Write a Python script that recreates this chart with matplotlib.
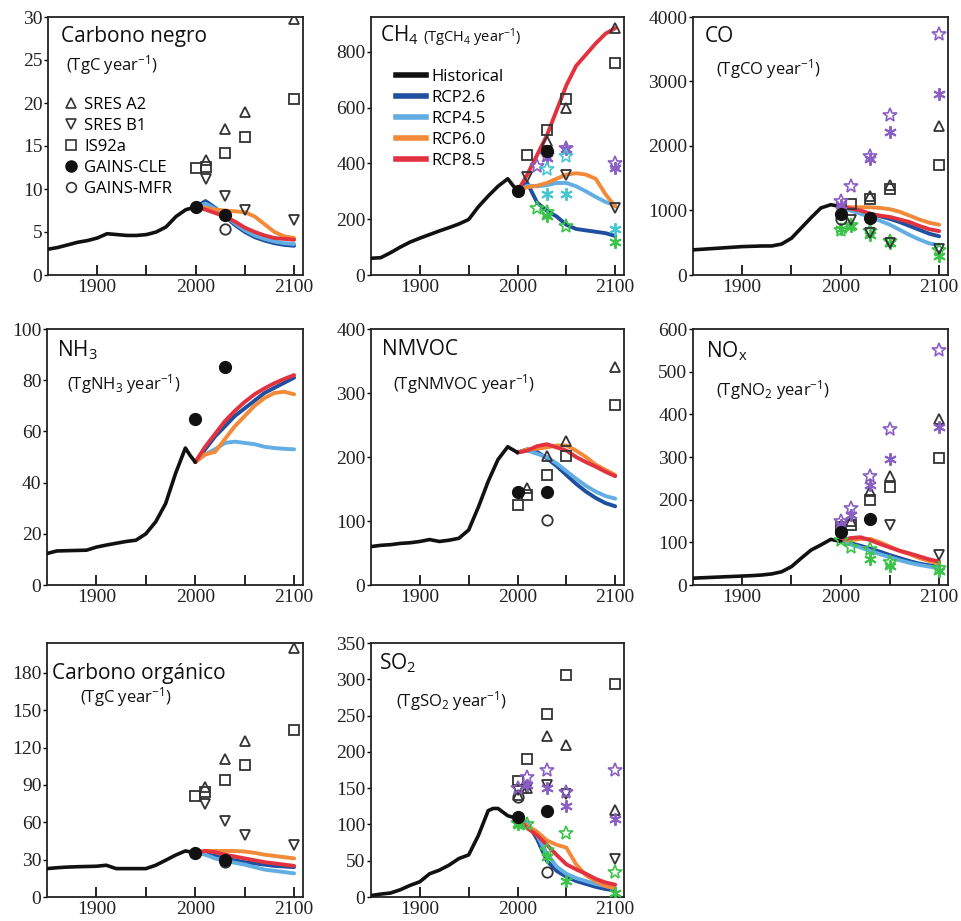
import matplotlib
matplotlib.use("Agg")
import matplotlib.pyplot as plt
from matplotlib.lines import Line2D

# ---------------- data ----------------
RCP_YEARS = [2000, 2010, 2020, 2030, 2040, 2050, 2060, 2070, 2080, 2090, 2100]
HIST_YEARS = [1850, 1860, 1870, 1880, 1890, 1900, 1910, 1920, 1930, 1940,
              1950, 1960, 1970, 1980, 1990, 2000]

# Carbono negro (BC)
BC_HIST = [3.0, 3.2, 3.5, 3.8, 4.0, 4.3, 4.8, 4.7, 4.6, 4.6, 4.7, 5.0, 5.6, 6.8, 7.6, 7.9]
BC_RCP26 = [7.9, 8.6, 7.8, 6.8, 5.8, 5.0, 4.4, 4.0, 3.7, 3.5, 3.4]
BC_RCP45 = [7.9, 8.3, 7.7, 6.9, 6.0, 5.2, 4.6, 4.2, 3.9, 3.7, 3.6]
BC_RCP60 = [7.9, 7.8, 7.6, 7.5, 7.4, 7.3, 6.8, 5.9, 5.0, 4.5, 4.3]
BC_RCP85 = [7.9, 7.6, 7.2, 6.8, 6.2, 5.5, 5.0, 4.6, 4.3, 4.2, 4.1]
BC_A2_YEARS, BC_A2 = [2010, 2030, 2050, 2100], [13.4, 17.0, 19.0, 29.8]
BC_B1_YEARS, BC_B1 = [2010, 2030, 2050, 2100], [11.2, 9.2, 7.6, 6.4]
BC_IS92_YEARS, BC_IS92 = [2000, 2010, 2030, 2050, 2100], [12.4, 12.6, 14.2, 16.0, 20.5]
BC_CLE_YEARS, BC_CLE = [2000, 2030], [7.9, 7.0]
BC_MFR_YEARS, BC_MFR = [2030], [5.4]

# CH4
CH4_HIST = [60, 62, 80, 100, 118, 132, 145, 158, 170, 183, 199, 245, 283, 318, 345, 300]
CH4_RCP26 = [300, 330, 260, 230, 210, 180, 165, 160, 155, 150, 140]
CH4_RCP45 = [300, 320, 318, 322, 330, 330, 318, 300, 280, 262, 250]
CH4_RCP60 = [300, 315, 320, 330, 345, 360, 365, 360, 345, 290, 245]
CH4_RCP85 = [300, 360, 430, 500, 590, 680, 750, 790, 830, 865, 885]
CH4_A2_YEARS, CH4_A2 = [2030, 2050, 2100], [480, 600, 885]
CH4_B1_YEARS, CH4_B1 = [2010, 2030, 2050, 2100], [350, 440, 360, 240]
CH4_IS92_YEARS, CH4_IS92 = [2010, 2030, 2050, 2100], [430, 520, 630, 760]
CH4_CLE_YEARS, CH4_CLE = [2000, 2030], [300, 445]
CH4_PSTAR_YEARS, CH4_PSTAR = [2020, 2030, 2050, 2100], [390, 430, 455, 400]
CH4_PAST_YEARS, CH4_PAST = [2030, 2050, 2100], [420, 450, 385]
CH4_CSTAR_YEARS, CH4_CSTAR = [2030, 2050], [380, 425]
CH4_CAST_YEARS, CH4_CAST = [2030, 2050, 2100], [290, 290, 165]
CH4_GSTAR_YEARS, CH4_GSTAR = [2020, 2030, 2050], [240, 225, 175]
CH4_GAST_YEARS, CH4_GAST = [2030, 2100], [210, 120]

# CO
CO_HIST = [390, 400, 410, 420, 430, 440, 445, 450, 450, 480, 570, 730, 890, 1040, 1090, 1060]
CO_RCP26 = [1060, 1020, 990, 950, 910, 870, 820, 760, 700, 640, 600]
CO_RCP45 = [1060, 1000, 950, 900, 840, 780, 700, 620, 550, 490, 460]
CO_RCP60 = [1060, 1050, 1050, 1050, 1040, 1020, 980, 920, 860, 810, 780]
CO_RCP85 = [1060, 1030, 1000, 950, 920, 900, 860, 820, 760, 710, 680]
CO_A2_YEARS, CO_A2 = [2030, 2050, 2100], [1230, 1400, 2310]
CO_B1_YEARS, CO_B1 = [2010, 2030, 2050, 2100], [850, 650, 500, 400]
CO_IS92_YEARS, CO_IS92 = [2010, 2030, 2050, 2100], [1100, 1180, 1330, 1700]
CO_CLE_YEARS, CO_CLE = [2000, 2030], [950, 880]
CO_MFR_YEARS, CO_MFR = [2000], [870]
CO_PSTAR_YEARS, CO_PSTAR = [2000, 2010, 2030, 2050, 2100], [1150, 1380, 1850, 2480, 3730]
CO_PAST_YEARS, CO_PAST = [2000, 2030, 2050, 2100], [1080, 1800, 2220, 2800]
CO_GSTAR_YEARS, CO_GSTAR = [2000, 2010, 2030, 2050, 2100], [700, 780, 680, 530, 380]
CO_GAST_YEARS, CO_GAST = [2000, 2010, 2030, 2050, 2100], [720, 760, 620, 490, 290]

# NH3
NH3_HIST_YEARS = [1850, 1860, 1870, 1880, 1890, 1900, 1910, 1920, 1930, 1940,
                  1950, 1960, 1970, 1980, 1990, 1995, 2000]
NH3_HIST = [12.3, 13.3, 13.4, 13.5, 13.6, 14.8, 15.6, 16.3, 17.0, 17.5,
            20.0, 24.7, 31.8, 43.5, 53.5, 50.5, 48.0]
NH3_RCP26 = [48, 53, 58, 62, 66, 69, 72, 75, 77, 79, 81]
NH3_RCP45 = [48, 51, 53, 55.5, 56, 55.5, 55, 54, 53.5, 53.2, 53]
NH3_RCP60 = [48, 51, 52, 57, 62, 66, 70, 73, 75, 75.5, 74.5]
NH3_RCP85 = [48, 54, 59, 64, 68, 71.5, 74.5, 76.8, 78.8, 80.5, 82]
NH3_CLE_YEARS, NH3_CLE = [2000, 2030], [65, 85]

# NMVOC
NMVOC_HIST = [60, 62, 63, 65, 66, 68, 71, 68, 70, 73, 86, 122, 162, 196, 216, 207]
NMVOC_RCP26 = [207, 212, 208, 198, 186, 172, 158, 146, 136, 128, 123]
NMVOC_RCP45 = [207, 210, 205, 200, 190, 178, 166, 155, 146, 139, 135]
NMVOC_RCP60 = [207, 212, 213, 215, 218, 218, 210, 200, 188, 180, 172]
NMVOC_RCP85 = [207, 210, 217, 220, 215, 210, 200, 192, 185, 177, 170]
NMVOC_A2_YEARS, NMVOC_A2 = [2010, 2030, 2050, 2100], [152, 202, 225, 340]
NMVOC_IS92_YEARS, NMVOC_IS92 = [2000, 2010, 2030, 2050, 2100], [125, 140, 172, 202, 282]
NMVOC_CLE_YEARS, NMVOC_CLE = [2000, 2030], [146, 145]
NMVOC_MFR_YEARS, NMVOC_MFR = [2030], [102]

# NOx
NOX_HIST = [16, 17, 18, 19, 20, 21, 22, 23.5, 26, 31, 43, 63, 82, 94, 107, 102]
NOX_RCP26 = [105, 98, 92, 85, 78, 70, 63, 56, 50, 46, 42]
NOX_RCP45 = [105, 95, 88, 80, 72, 65, 58, 52, 47, 43, 40]
NOX_RCP60 = [105, 105, 108, 108, 100, 90, 80, 72, 63, 56, 50]
NOX_RCP85 = [105, 110, 112, 105, 96, 88, 80, 74, 67, 60, 55]
NOX_A2_YEARS, NOX_A2 = [2000, 2010, 2030, 2050, 2100], [130, 150, 220, 255, 388]
NOX_B1_YEARS, NOX_B1 = [2050, 2100], [140, 70]
NOX_IS92_YEARS, NOX_IS92 = [2000, 2010, 2030, 2050, 2100], [135, 140, 200, 230, 297]
NOX_CLE_YEARS, NOX_CLE = [2000, 2030], [125, 155]
NOX_PSTAR_YEARS, NOX_PSTAR = [2000, 2010, 2030, 2050, 2100], [150, 180, 255, 365, 550]
NOX_PAST_YEARS, NOX_PAST = [2000, 2010, 2030, 2050, 2100], [140, 165, 235, 295, 370]
NOX_GSTAR_YEARS, NOX_GSTAR = [2000, 2010, 2030, 2050, 2100], [105, 90, 85, 55, 40]
NOX_GAST_YEARS, NOX_GAST = [2030, 2050, 2100], [60, 45, 32]

# Carbono organico (OC)
OC_HIST = [22.8, 23.5, 24.0, 24.3, 24.5, 24.7, 25.5, 22.8, 22.8, 22.8, 22.8, 25.5, 29.5, 33.6, 37.0, 35.5]
OC_RCP26 = [35.5, 35, 33, 31, 29.5, 28, 27, 26, 25, 24.5, 24]
OC_RCP45 = [35.5, 34, 31, 29, 27.5, 26, 24, 22, 21, 20, 19]
OC_RCP60 = [35.5, 37, 37, 37, 37, 36.5, 35.5, 34, 33, 32, 31]
OC_RCP85 = [35.5, 37, 36, 34, 32.5, 31, 29.5, 28, 27, 26, 25]
OC_A2_YEARS, OC_A2 = [2010, 2030, 2050, 2100], [88, 111, 125, 200]
OC_B1_YEARS, OC_B1 = [2010, 2030, 2050, 2100], [75, 61, 50, 42]
OC_IS92_YEARS, OC_IS92 = [2000, 2010, 2030, 2050, 2100], [81, 84, 94, 106, 134]
OC_CLE_YEARS, OC_CLE = [2000, 2030], [35, 30]
OC_MFR_YEARS, OC_MFR = [2030], [28]

# SO2
SO2_HIST_YEARS = [1850, 1860, 1870, 1880, 1890, 1900, 1910, 1920, 1930, 1940,
                  1950, 1960, 1970, 1975, 1980, 1990, 2000]
SO2_HIST = [2, 4, 5.5, 10, 16, 21, 32, 37, 44, 53, 58, 85, 119, 122, 122, 112, 108]
SO2_RCP26 = [108, 102, 80, 50, 36, 28, 22, 18, 14, 11, 9]
SO2_RCP45 = [108, 102, 85, 60, 42, 32, 26, 22, 18, 15, 12]
SO2_RCP60 = [108, 98, 90, 78, 72, 68, 45, 30, 22, 15, 12]
SO2_RCP85 = [108, 95, 85, 72, 58, 45, 38, 32, 25, 20, 17]
SO2_A2_YEARS, SO2_A2 = [2000, 2010, 2030, 2050, 2100], [140, 150, 222, 210, 120]
SO2_B1_YEARS, SO2_B1 = [2000, 2010, 2030, 2050, 2100], [148, 150, 155, 142, 52]
SO2_IS92_YEARS, SO2_IS92 = [2000, 2010, 2030, 2050, 2100], [160, 190, 252, 306, 293]
SO2_CLE_YEARS, SO2_CLE = [2000, 2030], [110, 118]
SO2_MFR_YEARS, SO2_MFR = [2000, 2030], [138, 35]
SO2_PSTAR_YEARS, SO2_PSTAR = [2000, 2010, 2030, 2050, 2100], [150, 165, 175, 145, 175]
SO2_PAST_YEARS, SO2_PAST = [2010, 2030, 2050, 2100], [155, 150, 125, 107]
SO2_GSTAR_YEARS, SO2_GSTAR = [2000, 2010, 2030, 2050, 2100], [102, 100, 65, 88, 35]
SO2_GAST_YEARS, SO2_GAST = [2000, 2030, 2050, 2100], [100, 55, 22, 5]

RCP_LABELS = ["RCP2.6", "RCP4.5", "RCP6.0", "RCP8.5"]
MARKER_LABELS = ["SRES A2", "SRES B1", "IS92a", "GAINS-CLE", "GAINS-MFR"]

# ---------------- style ----------------
C_HIST = "#111111"
C_RCP = {"RCP2.6": "#1f4f9f", "RCP4.5": "#62aee3", "RCP6.0": "#f28a3a", "RCP8.5": "#e2323f"}
C_MK = "#333333"
C_PURPLE = "#8a5ec4"
C_GREEN = "#3cc44a"
C_CYAN = "#45c7d2"
SANS = ["Open Sans", "DejaVu Sans"]
SERIF = "Liberation Serif"

plt.rcParams["mathtext.fontset"] = "custom"
plt.rcParams["mathtext.rm"] = "Open Sans"
plt.rcParams["mathtext.it"] = "Open Sans"
plt.rcParams["mathtext.bf"] = "Open Sans"

fig = plt.figure(figsize=(9.62, 9.21), dpi=100)
W, H = 962.0, 921.0


def make_ax(l, r, t, b):
    return fig.add_axes([l / W, 1 - b / H, (r - l) / W, (b - t) / H])


def style(ax, ymax, yticks):
    ax.set_xlim(1850, 2109)
    ax.set_ylim(0, ymax)
    ax.set_xticks([1900, 1950, 2000, 2050, 2100])
    ax.set_xticklabels(["1900", "", "2000", "", "2100"])
    ax.set_yticks(yticks)
    ax.tick_params(axis="x", direction="in", length=7, width=1.2, labelsize=14, pad=3)
    ax.tick_params(axis="y", direction="out", length=3, width=1.0, labelsize=14, pad=1)
    for lab in ax.get_xticklabels() + ax.get_yticklabels():
        lab.set_fontfamily(SERIF)
        lab.set_color("#222222")
    for s in ax.spines.values():
        s.set_linewidth(1.3)
        s.set_color("#222222")


def lines(ax, hy, h, rcps):
    for lab, vals in zip(RCP_LABELS, rcps):
        ax.plot(RCP_YEARS, vals, color=C_RCP[lab], lw=2.8, solid_capstyle="round", zorder=2)
    ax.plot(hy, h, color=C_HIST, lw=2.6, solid_capstyle="round", zorder=3)


def mk(ax, kind, x, y):
    if kind == "A2":
        ax.plot(x, y, ls="none", marker="^", ms=7.5, mfc="none", mec=C_MK, mew=1.3, zorder=5)
    elif kind == "B1":
        ax.plot(x, y, ls="none", marker="v", ms=7.5, mfc="none", mec=C_MK, mew=1.3, zorder=5)
    elif kind == "IS92":
        ax.plot(x, y, ls="none", marker="s", ms=7.5, mfc="none", mec=C_MK, mew=1.3, zorder=5)
    elif kind == "CLE":
        ax.plot(x, y, ls="none", marker="o", ms=8.5, mfc="#111111", mec="#111111", zorder=6)
    elif kind == "MFR":
        ax.plot(x, y, ls="none", marker="o", ms=7.5, mfc="none", mec=C_MK, mew=1.3, zorder=5)
    elif kind == "PSTAR":
        ax.plot(x, y, ls="none", marker="*", ms=10, mfc="none", mec=C_PURPLE, mew=1.2, zorder=5)
    elif kind == "PAST":
        ax.plot(x, y, ls="none", marker=(6, 2, 0), ms=9, mec=C_PURPLE, mew=1.4, zorder=5)
    elif kind == "GSTAR":
        ax.plot(x, y, ls="none", marker="*", ms=10, mfc="none", mec=C_GREEN, mew=1.2, zorder=5)
    elif kind == "GAST":
        ax.plot(x, y, ls="none", marker=(6, 2, 0), ms=9, mec=C_GREEN, mew=1.4, zorder=5)
    elif kind == "CSTAR":
        ax.plot(x, y, ls="none", marker="*", ms=10, mfc="none", mec=C_CYAN, mew=1.2, zorder=5)
    elif kind == "CAST":
        ax.plot(x, y, ls="none", marker=(6, 2, 0), ms=9, mec=C_CYAN, mew=1.4, zorder=5)


def title(ax, x, y, s, size=15, va="top"):
    ax.text(x, y, s, transform=ax.transAxes, ha="left", va=va, fontsize=size,
            family=SANS, color="#111111", zorder=10)


# ---- Carbono negro ----
ax = make_ax(48, 303, 17, 275)
style(ax, 30, [0, 5, 10, 15, 20, 25, 30])
lines(ax, HIST_YEARS, BC_HIST, [BC_RCP26, BC_RCP45, BC_RCP60, BC_RCP85])
mk(ax, "A2", BC_A2_YEARS, BC_A2)
mk(ax, "B1", BC_B1_YEARS, BC_B1)
mk(ax, "IS92", BC_IS92_YEARS, BC_IS92)
mk(ax, "CLE", BC_CLE_YEARS, BC_CLE)
mk(ax, "MFR", BC_MFR_YEARS, BC_MFR)
title(ax, 0.05, 0.965, "Carbono negro")
title(ax, 0.07, 0.86, "(TgC year$^{-1}$)", 12)
handles = [
    Line2D([], [], ls="none", marker="^", ms=7, mfc="none", mec=C_MK, mew=1.2),
    Line2D([], [], ls="none", marker="v", ms=7, mfc="none", mec=C_MK, mew=1.2),
    Line2D([], [], ls="none", marker="s", ms=7, mfc="none", mec=C_MK, mew=1.2),
    Line2D([], [], ls="none", marker="o", ms=8, mfc="#111111", mec="#111111"),
    Line2D([], [], ls="none", marker="o", ms=7, mfc="none", mec=C_MK, mew=1.2),
]
ax.legend(handles, MARKER_LABELS, loc="upper left", bbox_to_anchor=(0.063, 0.69),
          frameon=False, prop={"family": SANS, "size": 12}, handlelength=0.8,
          handletextpad=0.4, labelspacing=0.3, borderaxespad=0, borderpad=0)

# ---- CH4 ----
ax = make_ax(371, 624, 17, 275)
style(ax, 925, [0, 200, 400, 600, 800])
lines(ax, HIST_YEARS, CH4_HIST, [CH4_RCP26, CH4_RCP45, CH4_RCP60, CH4_RCP85])
mk(ax, "A2", CH4_A2_YEARS, CH4_A2)
mk(ax, "B1", CH4_B1_YEARS, CH4_B1)
mk(ax, "IS92", CH4_IS92_YEARS, CH4_IS92)
mk(ax, "CLE", CH4_CLE_YEARS, CH4_CLE)
mk(ax, "PSTAR", CH4_PSTAR_YEARS, CH4_PSTAR)
mk(ax, "PAST", CH4_PAST_YEARS, CH4_PAST)
mk(ax, "CSTAR", CH4_CSTAR_YEARS, CH4_CSTAR)
mk(ax, "CAST", CH4_CAST_YEARS, CH4_CAST)
mk(ax, "GSTAR", CH4_GSTAR_YEARS, CH4_GSTAR)
mk(ax, "GAST", CH4_GAST_YEARS, CH4_GAST)
title(ax, 0.035, 0.905, "CH$_4$", 15, va="baseline")
title(ax, 0.205, 0.905, "(TgCH$_4$ year$^{-1}$)", 10.5, va="baseline")
lh = [Line2D([], [], color=C_HIST, lw=4)] + [Line2D([], [], color=C_RCP[l], lw=4) for l in RCP_LABELS]
ax.legend(lh, ["Historical"] + RCP_LABELS, loc="upper left", bbox_to_anchor=(0.10, 0.80),
          frameon=False, prop={"family": SANS, "size": 12}, handlelength=1.8,
          handletextpad=0.3, labelspacing=0.3, borderaxespad=0, borderpad=0)

# ---- CO ----
ax = make_ax(693, 948, 17, 275)
style(ax, 4000, [0, 1000, 2000, 3000, 4000])
lines(ax, HIST_YEARS, CO_HIST, [CO_RCP26, CO_RCP45, CO_RCP60, CO_RCP85])
mk(ax, "GSTAR", CO_GSTAR_YEARS, CO_GSTAR)
mk(ax, "GAST", CO_GAST_YEARS, CO_GAST)
mk(ax, "A2", CO_A2_YEARS, CO_A2)
mk(ax, "B1", CO_B1_YEARS, CO_B1)
mk(ax, "IS92", CO_IS92_YEARS, CO_IS92)
mk(ax, "CLE", CO_CLE_YEARS, CO_CLE)
mk(ax, "MFR", CO_MFR_YEARS, CO_MFR)
mk(ax, "PSTAR", CO_PSTAR_YEARS, CO_PSTAR)
mk(ax, "PAST", CO_PAST_YEARS, CO_PAST)
title(ax, 0.045, 0.965, "CO")
title(ax, 0.09, 0.845, "(TgCO year$^{-1}$)", 12)

# ---- NH3 ----
ax = make_ax(47, 303, 329, 585)
style(ax, 100, [0, 20, 40, 60, 80, 100])
lines(ax, NH3_HIST_YEARS, NH3_HIST, [NH3_RCP26, NH3_RCP45, NH3_RCP60, NH3_RCP85])
mk(ax, "CLE", NH3_CLE_YEARS, NH3_CLE)
title(ax, 0.04, 0.965, "NH$_3$")
title(ax, 0.08, 0.83, "(TgNH$_3$ year$^{-1}$)", 12)

# ---- NMVOC ----
ax = make_ax(371, 624, 329, 585)
style(ax, 400, [0, 100, 200, 300, 400])
lines(ax, HIST_YEARS, NMVOC_HIST, [NMVOC_RCP26, NMVOC_RCP45, NMVOC_RCP60, NMVOC_RCP85])
mk(ax, "A2", NMVOC_A2_YEARS, NMVOC_A2)
mk(ax, "IS92", NMVOC_IS92_YEARS, NMVOC_IS92)
mk(ax, "CLE", NMVOC_CLE_YEARS, NMVOC_CLE)
mk(ax, "MFR", NMVOC_MFR_YEARS, NMVOC_MFR)
title(ax, 0.045, 0.96, "NMVOC")
title(ax, 0.085, 0.83, "(TgNMVOC year$^{-1}$)", 12)

# ---- NOx ----
ax = make_ax(693, 948, 329, 585)
style(ax, 600, [0, 100, 200, 300, 400, 500, 600])
lines(ax, HIST_YEARS, NOX_HIST, [NOX_RCP26, NOX_RCP45, NOX_RCP60, NOX_RCP85])
mk(ax, "GSTAR", NOX_GSTAR_YEARS, NOX_GSTAR)
mk(ax, "GAST", NOX_GAST_YEARS, NOX_GAST)
mk(ax, "A2", NOX_A2_YEARS, NOX_A2)
mk(ax, "B1", NOX_B1_YEARS, NOX_B1)
mk(ax, "IS92", NOX_IS92_YEARS, NOX_IS92)
mk(ax, "CLE", NOX_CLE_YEARS, NOX_CLE)
mk(ax, "PSTAR", NOX_PSTAR_YEARS, NOX_PSTAR)
mk(ax, "PAST", NOX_PAST_YEARS, NOX_PAST)
title(ax, 0.05, 0.96, "NO$_x$")
title(ax, 0.09, 0.81, "(TgNO$_2$ year$^{-1}$)", 12)

# ---- Carbono organico ----
ax = make_ax(47, 303, 643, 897)
style(ax, 204, [0, 30, 60, 90, 120, 150, 180])
lines(ax, HIST_YEARS, OC_HIST, [OC_RCP26, OC_RCP45, OC_RCP60, OC_RCP85])
mk(ax, "A2", OC_A2_YEARS, OC_A2)
mk(ax, "B1", OC_B1_YEARS, OC_B1)
mk(ax, "IS92", OC_IS92_YEARS, OC_IS92)
mk(ax, "MFR", OC_MFR_YEARS, OC_MFR)
mk(ax, "CLE", OC_CLE_YEARS, OC_CLE)
title(ax, 0.02, 0.92, "Carbono orgánico")
title(ax, 0.13, 0.835, "(TgC year$^{-1}$)", 12)

# ---- SO2 ----
ax = make_ax(371, 624, 643, 897)
style(ax, 350, [0, 50, 100, 150, 200, 250, 300, 350])
lines(ax, SO2_HIST_YEARS, SO2_HIST, [SO2_RCP26, SO2_RCP45, SO2_RCP60, SO2_RCP85])
mk(ax, "GSTAR", SO2_GSTAR_YEARS, SO2_GSTAR)
mk(ax, "GAST", SO2_GAST_YEARS, SO2_GAST)
mk(ax, "A2", SO2_A2_YEARS, SO2_A2)
mk(ax, "B1", SO2_B1_YEARS, SO2_B1)
mk(ax, "IS92", SO2_IS92_YEARS, SO2_IS92)
mk(ax, "MFR", SO2_MFR_YEARS, SO2_MFR)
mk(ax, "CLE", SO2_CLE_YEARS, SO2_CLE)
mk(ax, "PSTAR", SO2_PSTAR_YEARS, SO2_PSTAR)
mk(ax, "PAST", SO2_PAST_YEARS, SO2_PAST)
title(ax, 0.03, 0.965, "SO$_2$")
title(ax, 0.1, 0.82, "(TgSO$_2$ year$^{-1}$)", 12)

fig.savefig("out.png", dpi=100)
